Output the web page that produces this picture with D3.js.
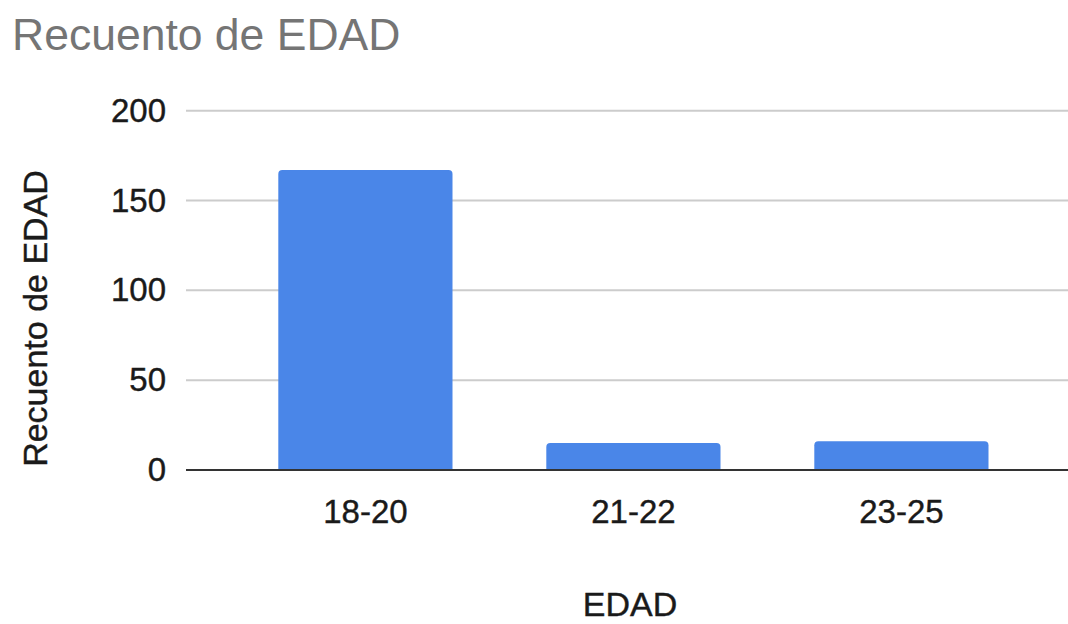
<!DOCTYPE html>
<html>
<head>
<meta charset="utf-8">
<script src="https://cdn.jsdelivr.net/npm/d3@7"></script>
<style>
  html, body { margin: 0; padding: 0; background: #fff; }
  svg { display: block; font-family: "Liberation Sans", Arial, sans-serif; }
</style>
</head>
<body>
<svg id="chart" width="1068" height="624"></svg>
<script>
// Age groups and how many people fall in each
const categories = ["18-20", "21-22", "23-25"];
const counts = [167, 15, 16];
const yTicks = [0, 50, 100, 150, 200];

const svg = d3.select("#chart");
const plot = { left: 186, right: 1068, top: 110.7, bottom: 470 };

const y = d3.scaleLinear().domain([0, 200]).range([plot.bottom, plot.top]);
const x = d3.scaleBand()
  .domain(categories)
  .range([184.5, 1082.3])
  .paddingInner(0.35)
  .paddingOuter(0.35);

// Title
svg.append("text")
  .attr("x", 12).attr("y", 50)
  .attr("fill", "#757575")
  .attr("font-size", 44.5)
  .text("Recuento de EDAD");

// Horizontal gridlines
svg.append("g")
  .selectAll("line")
  .data(yTicks.filter(d => d !== 0))
  .join("line")
  .attr("x1", plot.left).attr("x2", plot.right)
  .attr("y1", d => y(d)).attr("y2", d => y(d))
  .attr("stroke", "#cccccc")
  .attr("stroke-width", 2);

// Y axis labels
const yAxis = svg.append("g")
  .attr("transform", `translate(${plot.left},0)`)
  .call(d3.axisLeft(y).tickValues(yTicks).tickSize(0).tickPadding(20));
yAxis.select(".domain").remove();
yAxis.selectAll("text")
  .attr("font-size", 33)
  .attr("fill", "#1a1a1a")
  .attr("stroke", "#1a1a1a").attr("stroke-width", 0.4)
  .attr("font-family", "Liberation Sans, Arial, sans-serif");

// Bars with rounded top corners
const r = 4;
svg.append("g")
  .selectAll("path")
  .data(categories.map((c, i) => ({ c, v: counts[i] })))
  .join("path")
  .attr("fill", "#4a86e8")
  .attr("d", d => {
    const x0 = x(d.c), x1 = x0 + x.bandwidth();
    const y0 = y(d.v), yb = y(0);
    return `M${x0},${yb}V${y0 + r}Q${x0},${y0} ${x0 + r},${y0}` +
           `H${x1 - r}Q${x1},${y0} ${x1},${y0 + r}V${yb}Z`;
  });

// Baseline
svg.append("line")
  .attr("x1", plot.left).attr("x2", plot.right)
  .attr("y1", y(0)).attr("y2", y(0))
  .attr("stroke", "#333")
  .attr("stroke-width", 2);

// X axis labels
const xAxis = svg.append("g")
  .attr("transform", `translate(0,${plot.bottom})`)
  .call(d3.axisBottom(x).tickSize(0).tickPadding(30));
xAxis.select(".domain").remove();
xAxis.selectAll("text")
  .attr("font-size", 33)
  .attr("fill", "#1a1a1a")
  .attr("stroke", "#1a1a1a").attr("stroke-width", 0.4)
  .attr("font-family", "Liberation Sans, Arial, sans-serif");

// Axis titles
svg.append("text")
  .attr("x", 630).attr("y", 616)
  .attr("text-anchor", "middle")
  .attr("font-size", 34)
  .attr("fill", "#1a1a1a")
  .attr("stroke", "#1a1a1a").attr("stroke-width", 0.4)
  .text("EDAD");

svg.append("text")
  .attr("transform", "translate(47,318.5) rotate(-90)")
  .attr("text-anchor", "middle")
  .attr("font-size", 34)
  .attr("fill", "#1a1a1a")
  .attr("stroke", "#1a1a1a").attr("stroke-width", 0.4)
  .text("Recuento de EDAD");
</script>
</body>
</html>
